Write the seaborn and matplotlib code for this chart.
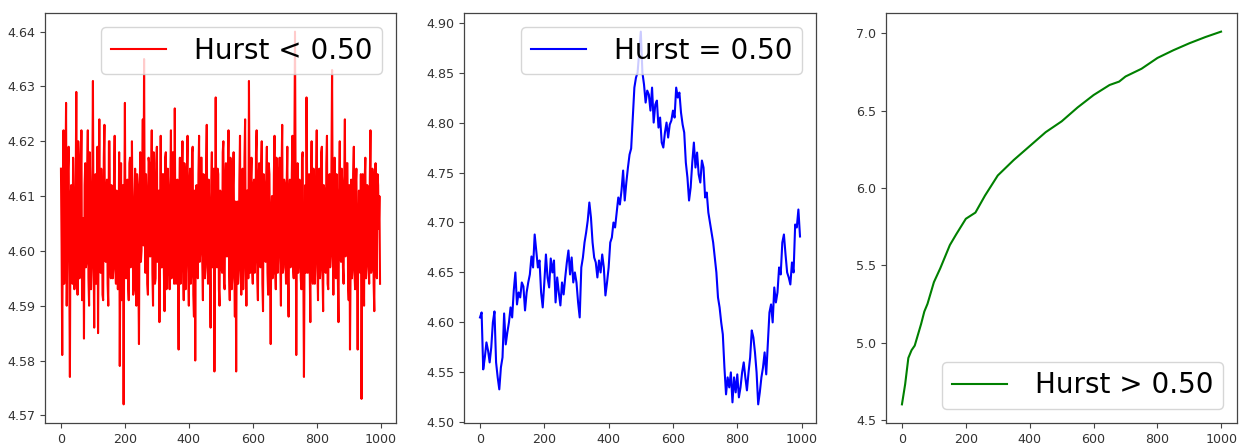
import numpy as np
import pandas as pd
import matplotlib
matplotlib.use("Agg")
import matplotlib.pyplot as plt
import seaborn as sns

# ---------------- data ----------------
# red series: values at x = 0, 4, 8, ...
red_x_a = np.arange(0, 1000, 4)
red_y_a = [
    4.615, 4.581, 4.622, 4.598, 4.627, 4.603, 4.619, 4.577, 4.612, 4.594,
    4.610, 4.596, 4.629, 4.592, 4.617, 4.601, 4.622, 4.593, 4.584, 4.616,
    4.598, 4.622, 4.590, 4.611, 4.597, 4.631, 4.586, 4.614, 4.600, 4.585,
    4.624, 4.596, 4.609, 4.591, 4.623, 4.598, 4.613, 4.590, 4.620, 4.595,
    4.611, 4.597, 4.621, 4.594, 4.608, 4.600, 4.579, 4.616, 4.592, 4.572,
    4.627, 4.595, 4.613, 4.591, 4.617, 4.599, 4.606, 4.593, 4.615, 4.590,
    4.612, 4.583, 4.618, 4.600, 4.624, 4.635, 4.596, 4.610, 4.592, 4.616,
    4.599, 4.622, 4.590, 4.612, 4.595, 4.619, 4.601, 4.587, 4.621, 4.597,
    4.614, 4.589, 4.618, 4.596, 4.611, 4.593, 4.622, 4.598, 4.609, 4.626,
    4.594, 4.613, 4.582, 4.617, 4.597, 4.620, 4.591, 4.612, 4.599, 4.621,
    4.590, 4.615, 4.596, 4.619, 4.588, 4.580, 4.612, 4.595, 4.621, 4.600,
    4.617, 4.591, 4.611, 4.597, 4.623, 4.594, 4.608, 4.586, 4.618, 4.599,
    4.578, 4.628, 4.597, 4.614, 4.590, 4.610, 4.596, 4.620, 4.593, 4.616,
    4.599, 4.622, 4.591, 4.613, 4.595, 4.618, 4.588, 4.578, 4.609, 4.597,
    4.621, 4.592, 4.615, 4.598, 4.624, 4.590, 4.611, 4.631, 4.596, 4.617,
    4.594, 4.613, 4.599, 4.622, 4.591, 4.616, 4.597, 4.620, 4.589, 4.612,
    4.598, 4.619, 4.592, 4.614, 4.583, 4.610, 4.596, 4.621, 4.593, 4.615,
    4.600, 4.617, 4.590, 4.623, 4.597, 4.612, 4.594, 4.619, 4.588, 4.613,
    4.598, 4.621, 4.595, 4.640, 4.581, 4.616, 4.599, 4.611, 4.593, 4.618,
    4.577, 4.612, 4.628, 4.596, 4.614, 4.587, 4.620, 4.594, 4.610, 4.599,
    4.622, 4.591, 4.615, 4.597, 4.619, 4.589, 4.611, 4.596, 4.621, 4.593,
    4.614, 4.599, 4.633, 4.592, 4.617, 4.595, 4.610, 4.587, 4.620, 4.598,
    4.612, 4.594, 4.624, 4.600, 4.616, 4.591, 4.582, 4.613, 4.597, 4.619,
    4.593, 4.615, 4.582, 4.611, 4.596, 4.573, 4.614, 4.590, 4.617, 4.598,
    4.611, 4.594, 4.622, 4.597, 4.613, 4.589, 4.616, 4.595, 4.612, 4.610,
]
# red series: values at x = 2, 6, 10, ...
red_x_b = np.arange(2, 1000, 4)
red_y_b = [
    4.601, 4.608, 4.594, 4.612, 4.590, 4.615, 4.596, 4.609, 4.603, 4.617,
    4.593, 4.611, 4.598, 4.620, 4.595, 4.613, 4.591, 4.606, 4.612, 4.597,
    4.614, 4.595, 4.618, 4.593, 4.612, 4.600, 4.608, 4.594, 4.619, 4.603,
    4.597, 4.615, 4.592, 4.617, 4.599, 4.611, 4.594, 4.620, 4.598, 4.612,
    4.595, 4.614, 4.597, 4.611, 4.593, 4.618, 4.602, 4.591, 4.612, 4.606,
    4.599, 4.612, 4.594, 4.616, 4.597, 4.620, 4.592, 4.610, 4.598, 4.614,
    4.596, 4.610, 4.598, 4.613, 4.601, 4.605, 4.614, 4.594, 4.617, 4.599,
    4.613, 4.596, 4.618, 4.594, 4.616, 4.598, 4.611, 4.605, 4.597, 4.614,
    4.596, 4.617, 4.593, 4.615, 4.599, 4.612, 4.595, 4.618, 4.594, 4.601,
    4.611, 4.596, 4.609, 4.594, 4.613, 4.598, 4.616, 4.593, 4.615, 4.597,
    4.612, 4.594, 4.618, 4.592, 4.611, 4.609, 4.596, 4.614, 4.598, 4.617,
    4.598, 4.614, 4.595, 4.616, 4.599, 4.613, 4.596, 4.612, 4.597, 4.615,
    4.605, 4.601, 4.615, 4.593, 4.611, 4.597, 4.618, 4.594, 4.613, 4.599,
    4.614, 4.596, 4.617, 4.593, 4.612, 4.598, 4.609, 4.606, 4.594, 4.613,
    4.597, 4.614, 4.593, 4.617, 4.599, 4.611, 4.595, 4.608, 4.613, 4.597,
    4.612, 4.596, 4.618, 4.595, 4.613, 4.598, 4.615, 4.594, 4.614, 4.599,
    4.613, 4.596, 4.616, 4.598, 4.607, 4.595, 4.614, 4.597, 4.617, 4.596,
    4.611, 4.598, 4.615, 4.596, 4.613, 4.599, 4.612, 4.595, 4.610, 4.597,
    4.614, 4.597, 4.616, 4.608, 4.603, 4.596, 4.613, 4.595, 4.617, 4.598,
    4.600, 4.596, 4.611, 4.610, 4.597, 4.612, 4.596, 4.615, 4.594, 4.613,
    4.597, 4.614, 4.595, 4.618, 4.596, 4.612, 4.598, 4.616, 4.594, 4.613,
    4.597, 4.616, 4.605, 4.612, 4.596, 4.614, 4.595, 4.611, 4.599, 4.615,
    4.597, 4.613, 4.599, 4.616, 4.594, 4.612, 4.598, 4.595, 4.614, 4.596,
    4.612, 4.597, 4.604, 4.598, 4.614, 4.596, 4.599, 4.613, 4.595, 4.612,
    4.597, 4.613, 4.596, 4.615, 4.594, 4.611, 4.598, 4.614, 4.604, 4.594,
]

blue_x = np.arange(0, 1000, 5)
blue_y = [
    4.605, 4.610, 4.553, 4.565, 4.580, 4.572, 4.560, 4.575, 4.600, 4.611,
    4.560, 4.545, 4.533, 4.555, 4.565, 4.609, 4.578, 4.590, 4.600, 4.615,
    4.605, 4.632, 4.650, 4.618, 4.630, 4.625, 4.640, 4.636, 4.612, 4.630,
    4.640, 4.648, 4.666, 4.655, 4.688, 4.672, 4.655, 4.662, 4.630, 4.615,
    4.640, 4.668, 4.645, 4.635, 4.664, 4.650, 4.662, 4.620, 4.645, 4.630,
    4.617, 4.640, 4.628, 4.645, 4.660, 4.672, 4.648, 4.665, 4.640, 4.650,
    4.640, 4.620, 4.605, 4.655, 4.665, 4.680, 4.690, 4.702, 4.720, 4.705,
    4.680, 4.665, 4.660, 4.645, 4.662, 4.650, 4.668, 4.655, 4.627, 4.640,
    4.655, 4.680, 4.685, 4.700, 4.695, 4.710, 4.725, 4.718, 4.732, 4.752,
    4.722, 4.740, 4.755, 4.768, 4.774, 4.805, 4.835, 4.845, 4.850, 4.870,
    4.891, 4.850, 4.838, 4.820, 4.832, 4.828, 4.812, 4.835, 4.800, 4.818,
    4.822, 4.795, 4.805, 4.780, 4.775, 4.790, 4.800, 4.785, 4.798, 4.802,
    4.812, 4.805, 4.835, 4.825, 4.830, 4.810, 4.798, 4.790, 4.760, 4.745,
    4.722, 4.735, 4.760, 4.780, 4.755, 4.770, 4.748, 4.740, 4.762, 4.755,
    4.725, 4.730, 4.710, 4.700, 4.690, 4.680, 4.665, 4.650, 4.625, 4.615,
    4.600, 4.588, 4.555, 4.528, 4.545, 4.535, 4.550, 4.520, 4.545, 4.530,
    4.548, 4.525, 4.535, 4.550, 4.560, 4.545, 4.532, 4.550, 4.565, 4.592,
    4.585, 4.570, 4.550, 4.518, 4.530, 4.545, 4.555, 4.570, 4.548, 4.578,
    4.610, 4.618, 4.600, 4.635, 4.620, 4.630, 4.655, 4.648, 4.680, 4.688,
    4.668, 4.650, 4.645, 4.638, 4.660, 4.650, 4.698, 4.695, 4.713, 4.686,
]

green_x = [0, 10, 20, 30, 40, 50, 60, 70, 80, 100, 120, 150, 170, 200, 230,
           260, 300, 350, 400, 450, 500, 550, 600, 650, 680, 700, 750, 800,
           850, 900, 950, 999]
green_y = [4.60, 4.73, 4.90, 4.95, 4.98, 5.05, 5.12, 5.20, 5.25, 5.39, 5.48,
           5.63, 5.70, 5.80, 5.84, 5.95, 6.08, 6.18, 6.27, 6.36, 6.43, 6.52,
           6.60, 6.665, 6.687, 6.72, 6.77, 6.84, 6.89, 6.935, 6.975, 7.01]

labels = ["Hurst < 0.50", "Hurst = 0.50", "Hurst > 0.50"]
colors = ["red", "blue", "green"]
legend_locs = ["upper right", "upper right", "lower right"]

# ---------------- figure ----------------
plt.rcParams["font.family"] = ["DejaVu Sans"]
W, H = 1241, 443
fig = plt.figure(figsize=(W / 100, H / 100), dpi=100)

boxes = [(45, 396), (464, 816), (886, 1237)]
top_px, bot_px = 13, 423

red_df = pd.concat([pd.DataFrame({"x": red_x_a, "y": red_y_a}),
                    pd.DataFrame({"x": red_x_b, "y": red_y_b})])
frames = [red_df,
          pd.DataFrame({"x": blue_x, "y": blue_y}),
          pd.DataFrame({"x": green_x, "y": green_y})]

for (l, r), df, lab, col, loc in zip(boxes, frames, labels, colors, legend_locs):
    ax = fig.add_axes([l / W, 1 - bot_px / H, (r - l) / W, (bot_px - top_px) / H])
    sns.lineplot(data=df, x="x", y="y", ax=ax, color=col, label=lab,
                 linewidth=1.5, sort=True)
    ax.set_xlabel("")
    ax.set_ylabel("")
    ax.set_xticks([0, 200, 400, 600, 800, 1000])
    ax.tick_params(labelsize=9.1, colors="#444444", labelcolor="#333333")
    for s in ax.spines.values():
        s.set_color("#444444")
        s.set_linewidth(0.9)
    ax.legend(loc=loc, fontsize=20, framealpha=0.8, borderpad=0.35,
              handletextpad=1.0)

fig.savefig("out.png", dpi=100)
